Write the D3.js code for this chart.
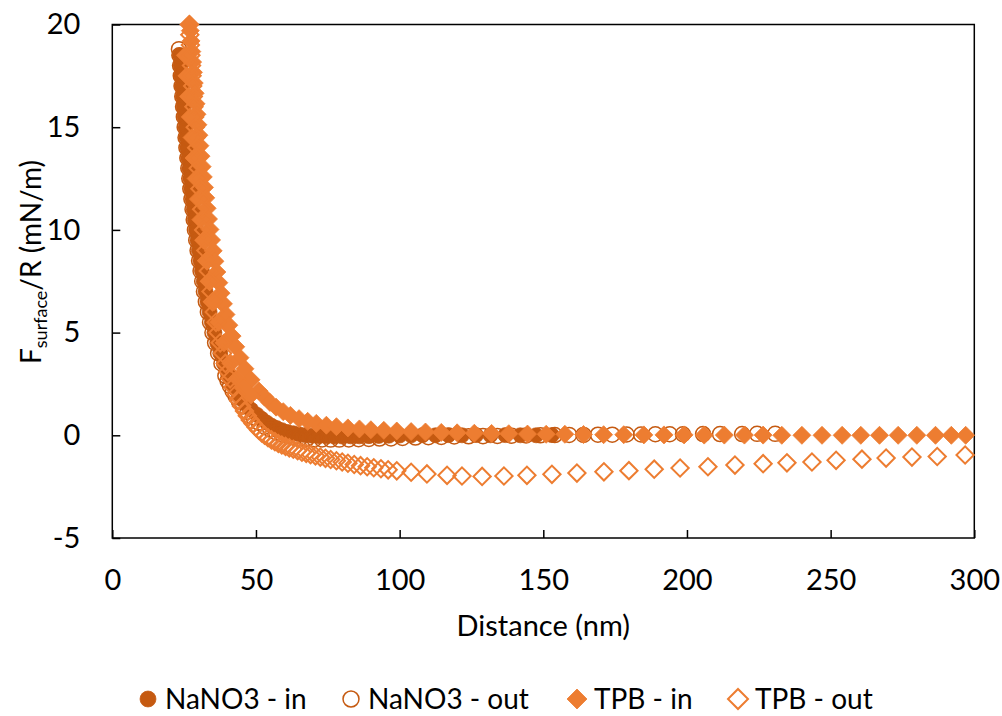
<!DOCTYPE html>
<html><head><meta charset="utf-8">
<script src="https://cdn.jsdelivr.net/npm/d3@7"></script>
<style>body{margin:0;background:#fff}svg{display:block}</style>
</head><body><svg id="c" width="1002" height="716"></svg>
<script>
const xTicks=[0,50,100,150,200,250,300];
const yTicks=[-5,0,5,10,15,20];
const seriesNames=["NaNO3 - in","NaNO3 - out","TPB - in","TPB - out"];

const nano3InD=[23.5,23.75,24.01,24.28,24.55,24.84,25.13,25.43,25.74,26.06,26.4,26.75,27.11,27.48,27.87,28.28,28.71,29.16,29.63,30.13,30.65,31.21,31.81,32.44,33.12,33.86,34.66,35.54,36.51,37.59,38.82,40.24,41.04,41.91,42.88,43.97,45.2,46.61,48.29,50.34,52,53.7,55.4,57.2,59,61,63,65,67.2,69.5,72,74.6,77.3,80,83,86,89.3,92.7,96.2,100,104,108,112.5,117,121.7,126.6,131.6,136.8,142,147.5,153];
const nano3InF=[18.5,18,17.5,17,16.5,16,15.5,15,14.5,14,13.5,13,12.5,12,11.5,11,10.5,10,9.5,9,8.5,8,7.5,7,6.5,6,5.5,5,4.5,4,3.5,3,2.75,2.5,2.25,2,1.75,1.5,1.25,1,0.8,0.62,0.47,0.35,0.25,0.16,0.1,0.05,0.01,-0.02,-0.04,-0.05,-0.06,-0.06,-0.05,-0.05,-0.04,-0.03,-0.02,-0.01,0,0.01,0,0.01,0,0.01,0,0.01,0,0,0.01];

const nano3OutD=[23.2,23.34,23.58,23.83,24.09,24.35,24.62,24.9,25.19,25.49,25.79,26.11,26.45,26.79,27.15,27.53,27.92,28.33,28.76,29.21,29.68,30.19,30.72,31.29,31.89,32.55,33.25,34.02,34.85,35.78,36.82,37.99,39.35,40.11,40.96,41.88,42.92,44.09,45.45,47.05,49.02,51,53,55,57,59,61,63,65.3,67.7,70.3,73,76,79,82.3,85.7,89.3,93,97,101,105.5,110,114.5,119,124,129,134,139,144,149,154,159,164,169,174,179,184,189,194,198.6,205.6,211.5,219.2,224.4,230.7];
const nano3OutF=[18.8,18.5,18,17.5,17,16.5,16,15.5,15,14.5,14,13.5,13,12.5,12,11.5,11,10.5,10,9.5,9,8.5,8,7.5,7,6.5,6,5.5,5,4.5,4,3.5,2.9,2.65,2.4,2.15,1.9,1.65,1.4,1.15,0.88,0.62,0.42,0.27,0.14,0.04,-0.04,-0.1,-0.14,-0.17,-0.19,-0.2,-0.21,-0.21,-0.2,-0.19,-0.18,-0.16,-0.15,-0.13,-0.11,-0.09,-0.08,-0.06,-0.05,-0.04,-0.03,-0.02,-0.01,0,0.01,0.02,0.02,0.03,0.03,0.04,0.04,0.05,0.05,0.05,0.06,0.06,0.06,0.07,0.07];

const tpbInD=[27,27.15,27.41,27.68,27.96,28.24,28.53,28.83,29.15,29.47,29.8,30.15,30.5,30.88,31.27,31.67,32.09,32.53,33,33.48,34,34.54,35.12,35.73,36.39,37.09,37.85,38.68,39.58,40.58,41.7,42.97,44.44,46.17,48.29,51.02,53,54.87,57,59.5,62,65,68,71,74.5,78,82,86,90,94.5,99,104,109,114.5,120,126,132,138,144.5,151,157.5,164,171,178,185,192,199,206,213,220,226.5,233,240,247,254,260.5,267,273.5,280,286.5,292,297,
  25.45,25.98,26.54,27.13,27.77,28.45,29.18,29.97,30.83,31.78,32.84,34.03,35.39,36.98,38.88,41.27,43.56,45.6,48.2];
const tpbInF=[20,19.7,19.2,18.68,18.17,17.67,17.15,16.65,16.14,15.63,15.12,14.61,14.1,13.59,13.08,12.58,12.07,11.56,11.05,10.53,10.02,9.51,8.98,8.47,7.95,7.43,6.92,6.4,5.88,5.36,4.83,4.31,3.78,3.24,2.7,2.16,1.86,1.6,1.37,1.15,0.97,0.81,0.68,0.58,0.49,0.42,0.36,0.31,0.27,0.24,0.21,0.18,0.16,0.14,0.12,0.1,0.09,0.08,0.06,0.05,0.05,0.04,0.03,0.03,0.02,0.02,0.02,0.01,0.01,0.01,0.01,0,0,0,0,0,0,0,0,0,0,0,
  18.5,17.5,16.5,15.5,14.5,13.5,12.5,11.5,10.5,9.5,8.5,7.5,6.5,5.5,4.5,3.5,2.75,2.3,1.95];

const tpbOutD=[26.8,26.98,27.17,27.36,27.56,27.76,27.97,28.19,28.41,28.64,28.87,29.12,29.37,29.63,29.9,30.18,30.48,30.79,31.1,31.44,31.79,32.16,32.55,32.96,33.4,33.86,34.36,34.89,35.47,36.1,36.78,37.54,38.39,39.35,40.2,41,42,43,44,45,46,47,48,49,50,51,52,53,54.2,55.4,56.6,57.8,59,60.3,61.6,63,64.5,66,67.5,69,70.7,72.4,74.2,76,78,80,82,84.2,86.4,88.7,91,93.5,96,99,104,109.5,116.5,121.7,128.7,136.3,144.3,153,161.7,171.1,179.8,188.6,197.6,207.3,216.7,226.5,234.8,243.5,251.9,260.9,269.3,278.3,287.1,296.8];
const tpbOutF=[20,19.5,19,18.5,18,17.5,17,16.5,16,15.5,15,14.5,14,13.5,13,12.5,12,11.5,11,10.5,10,9.5,9,8.5,8,7.5,7,6.5,6,5.5,5,4.5,4,3.5,3.1,2.75,2.35,2,1.7,1.42,1.18,0.95,0.75,0.57,0.4,0.25,0.12,0,-0.12,-0.22,-0.31,-0.4,-0.47,-0.54,-0.61,-0.68,-0.75,-0.82,-0.88,-0.94,-1,-1.06,-1.12,-1.18,-1.24,-1.3,-1.36,-1.42,-1.48,-1.53,-1.58,-1.63,-1.68,-1.73,-1.8,-1.88,-1.95,-1.98,-2,-1.98,-1.95,-1.9,-1.84,-1.78,-1.72,-1.65,-1.59,-1.53,-1.45,-1.38,-1.34,-1.3,-1.22,-1.16,-1.11,-1.06,-1.03,-0.96];

const FONT="Lato, 'Open Sans', sans-serif";
const FS=29;
const svg=d3.select("#c");
const m={l:112.3,r:974.3,t:24.5,b:538};
const x=d3.scaleLinear().domain([0,300]).range([m.l,m.r]);
const y=d3.scaleLinear().domain([-5,20]).range([m.b,m.t]);

const styles=[
 {sym:d3.symbolCircle,size:177,rot:0,fill:"#C55A11",stroke:"#C55A11",sw:0.75},
 {sym:d3.symbolCircle,size:177,rot:0,fill:"none",stroke:"#C55A11",sw:1.5},
 {sym:d3.symbolSquare,size:162,rot:45,fill:"#ED7D31",stroke:"#ED7D31",sw:0.75},
 {sym:d3.symbolSquare,size:150,rot:45,fill:"none",stroke:"#ED7D31",sw:2}
];
const series=[
 d3.zip(nano3InD,nano3InF),
 d3.zip(nano3OutD,nano3OutF),
 d3.zip(tpbInD,tpbInF),
 d3.zip(tpbOutD,tpbOutF)
];

// axes
const fmt=d=>String(d);
const xAxis=d3.axisBottom(x).tickValues(xTicks).tickFormat(fmt).tickSizeInner(-8).tickSizeOuter(0).tickPadding(31);
const yAxis=d3.axisLeft(y).tickValues(yTicks).tickFormat(fmt).tickSizeInner(-8).tickSizeOuter(0).tickPadding(32);
const gx=svg.append("g").attr("transform",`translate(0,${m.b})`).call(xAxis);
const gy=svg.append("g").attr("transform",`translate(${m.l},0)`).call(yAxis);
[gx,gy].forEach(g=>{
  g.select(".domain").remove();
  g.selectAll(".tick line").attr("stroke","#000").attr("stroke-width",1.5);
  g.selectAll("text").attr("font-family",FONT).attr("font-size",FS).attr("fill","#000");
});
svg.append("rect").attr("x",m.l).attr("y",m.t).attr("width",m.r-m.l).attr("height",m.b-m.t)
  .attr("fill","none").attr("stroke","#000").attr("stroke-width",1.5);

// series
series.forEach((data,i)=>{
  const s=styles[i];
  const gen=d3.symbol().type(s.sym).size(s.size);
  svg.append("g").selectAll("path").data(data).join("path")
    .attr("d",gen)
    .attr("transform",d=>`translate(${x(d[0])},${y(d[1])}) rotate(${s.rot})`)
    .attr("fill",s.fill).attr("stroke",s.stroke).attr("stroke-width",s.sw);
});

// axis titles
svg.append("text").attr("x",(m.l+m.r)/2).attr("y",636).attr("text-anchor","middle")
  .attr("font-family",FONT).attr("font-size",FS).attr("fill","#000").text("Distance (nm)");
const yt=svg.append("text").attr("transform","translate(41,262) rotate(-90)").attr("text-anchor","middle")
  .attr("font-family",FONT).attr("font-size",28).attr("fill","#000");
yt.append("tspan").text("F");
yt.append("tspan").attr("font-size",18).attr("dy",6).text("surface");
yt.append("tspan").attr("dy",-6).text("/R (mN/m)");

// legend
const legX=[148,351,577,738];
const legY=699;
const lg=svg.append("g");
seriesNames.forEach((name,i)=>{
  const s=styles[i];
  const gen=d3.symbol().type(s.sym).size(200);
  lg.append("path").attr("d",gen).attr("transform",`translate(${legX[i]},${legY}) rotate(${s.rot})`)
    .attr("fill",s.fill).attr("stroke",s.stroke).attr("stroke-width",s.sw);
  lg.append("text").attr("x",legX[i]+17).attr("y",legY).attr("dy","0.36em")
    .attr("font-family",FONT).attr("font-size",28).attr("fill","#000").text(name);
});
</script></body></html>
